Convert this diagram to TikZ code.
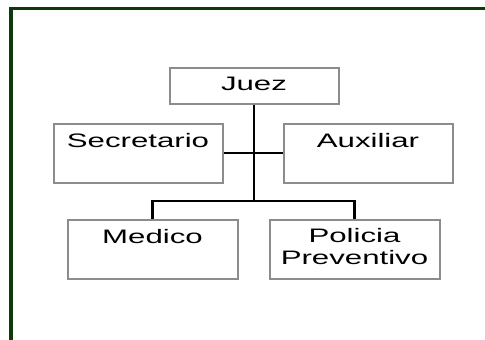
\documentclass[tikz,border=0pt]{standalone}
\usepackage{fontspec}
\newfontfamily\boxfont[FakeStretch=1.6]{Liberation Sans}
\definecolor{framegreen}{RGB}{12,58,12}
\definecolor{boxgray}{RGB}{140,140,140}
\tikzset{
  orgbox/.style={draw=boxgray, line width=2pt, rectangle, inner sep=0pt, fill=white},
  lbl/.style={anchor=base, inner sep=0pt, font=\boxfont\fontsize{19.5}{22.5}\selectfont, align=center},
  conn/.style={draw=black, line width=2.2pt},
  thinconn/.style={draw=black, line width=1.3pt},
  frameline/.style={draw=framegreen, line width=3.5pt}
}
\begin{document}
\begin{tikzpicture}[x=1pt,y=-1pt]
\useasboundingbox (0,0) rectangle (485,340);
\fill[white] (0,0) rectangle (485,340);
\draw[frameline] (10.8,341) -- (10.8,8.7) -- (486,8.7);

\node[orgbox, minimum width=169pt, minimum height=36pt] (juez) at (254,85.5) {};
\node[orgbox, minimum width=169pt, minimum height=59pt] (sec) at (138,153) {};
\node[orgbox, minimum width=169pt, minimum height=59pt] (aux) at (368,153) {};
\node[orgbox, minimum width=170pt, minimum height=59pt] (medico) at (152.5,249) {};
\node[orgbox, minimum width=170pt, minimum height=59pt] (policia) at (354.5,249) {};

\node[lbl] (tjuez) at (254,90.7) {Juez};
\node[lbl] (tsec) at (138,147.5) {Secretario};
\node[lbl] (taux) at (368,147.5) {Auxiliar};
\node[lbl] (tmed) at (152.5,243) {Medico};
\node[lbl] (tpol1) at (354.5,242) {Policia};
\node[lbl] (tpol2) at (354.5,264.7) {Preventivo};

\coordinate (bus) at (254,201);
\draw[thinconn] (sec.east) -- (aux.west);
\draw[conn] (juez.south) -- (bus);
\draw[conn] (medico.north) |- (bus) -| (policia.north);
\end{tikzpicture}
\end{document}
